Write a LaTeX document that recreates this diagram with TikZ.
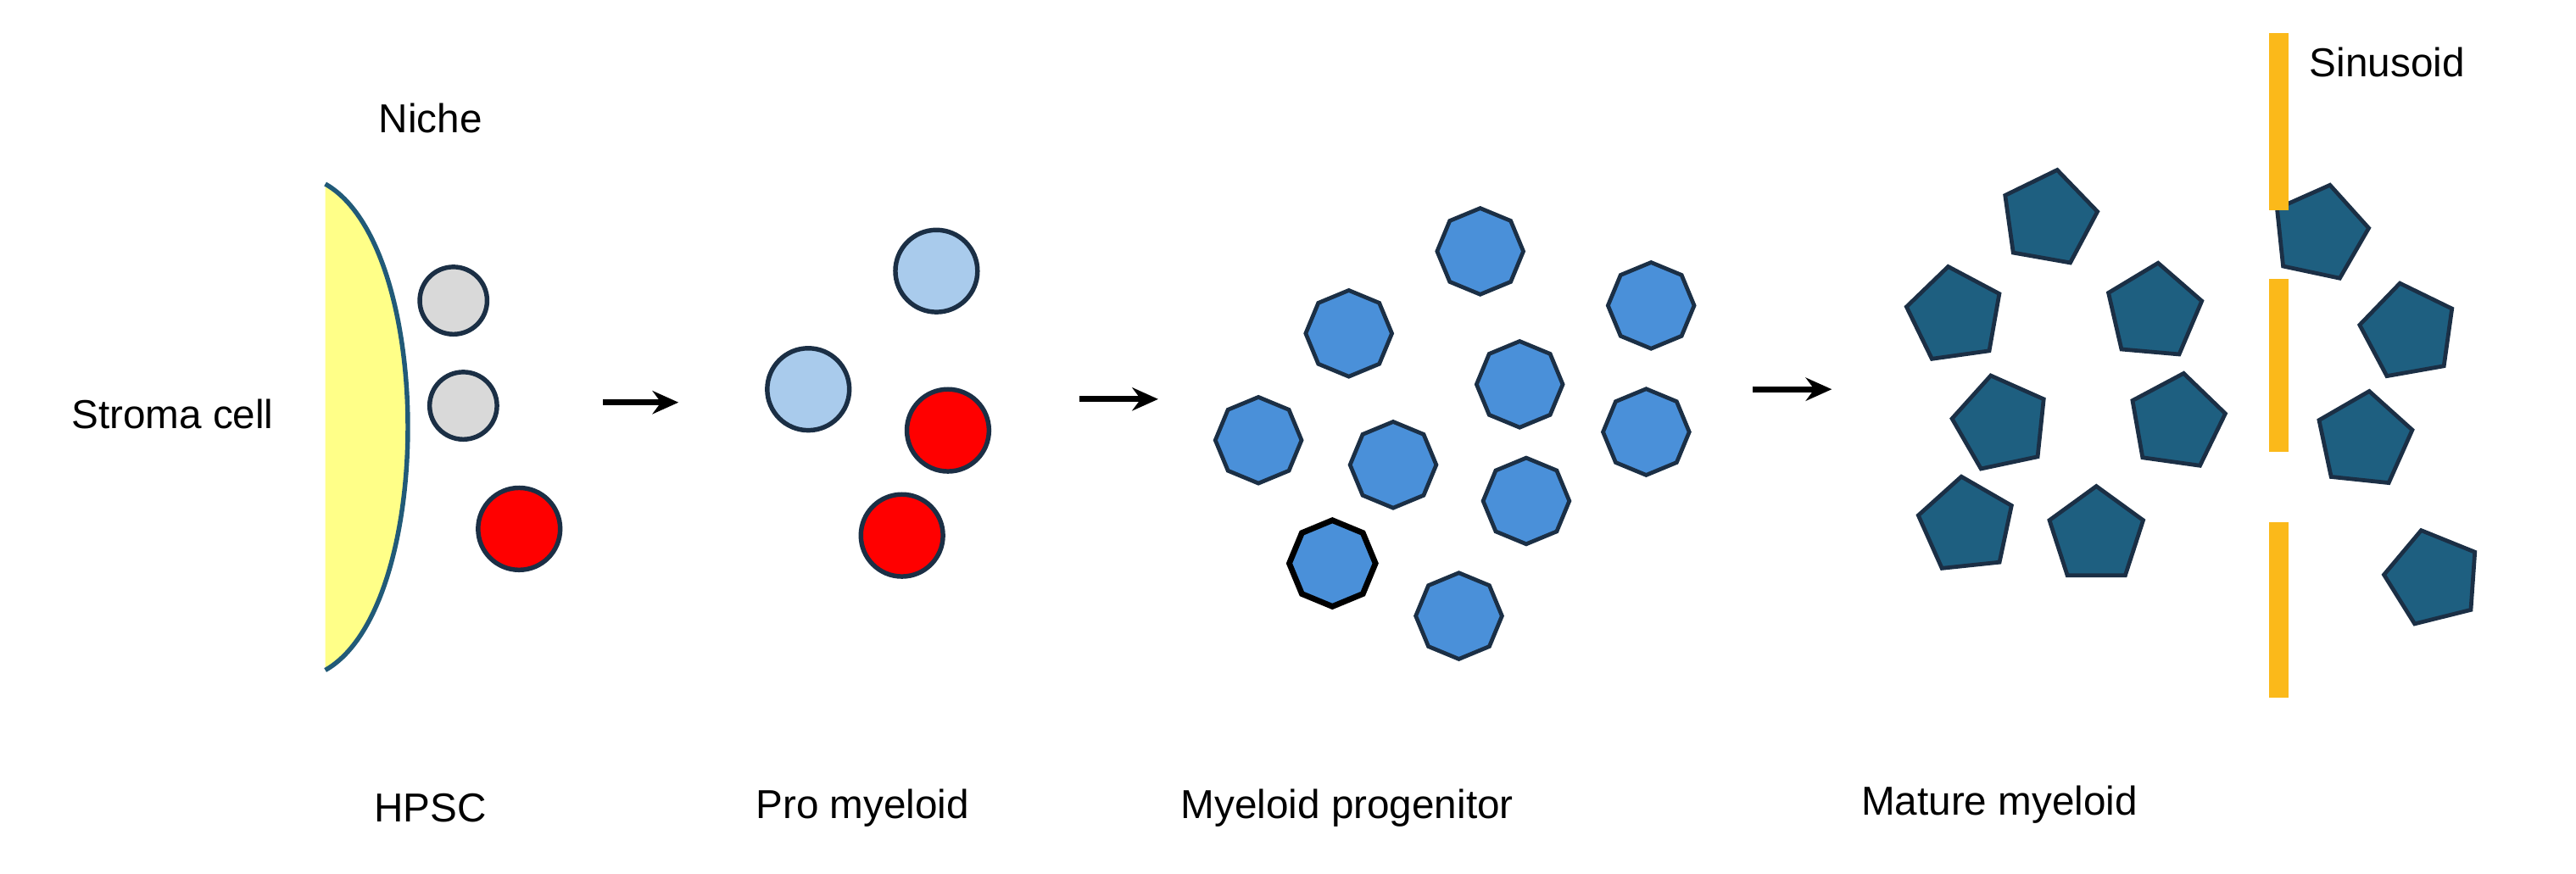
\documentclass[tikz,border=0pt]{standalone}
\usepackage{fontspec}
\setmainfont{Liberation Sans}
\usetikzlibrary{shapes.geometric,arrows.meta}
\definecolor{stroma}{HTML}{FFFF88}
\definecolor{edge}{HTML}{1B2F45}
\definecolor{sedge}{HTML}{215A78}
\definecolor{lgray}{HTML}{D9D9D9}
\definecolor{lblue}{HTML}{A9CBEC}
\definecolor{mblue}{HTML}{4A90D9}
\definecolor{teal}{HTML}{1E5F80}
\definecolor{sinus}{HTML}{FBB91A}
\begin{document}
\begin{tikzpicture}[x=0.02cm,y=-0.02cm,
  lab/.style={font=\fontsize{14}{16}\selectfont},
  cell/.style={circle,draw=edge,line width=1.6pt,minimum size=1.0cm,inner sep=0},
  small/.style={cell,minimum size=0.82cm},
  oct/.style={regular polygon,regular polygon sides=8,draw=edge,fill=mblue,line width=1.4pt,minimum size=1.05cm,inner sep=0},
  pent/.style={regular polygon,regular polygon sides=5,draw=edge,fill=teal,line width=1.4pt,minimum size=1.2cm,inner sep=0},
  arr/.style={-{Stealth[length=9pt,width=8pt]},line width=2pt},
  bar/.style={fill=sinus,draw=none}]
\useasboundingbox (0,0) rectangle (1568,532);
% stroma
\fill[stroma] (198,112) .. controls (265,150) and (265,370) .. (198,408) -- cycle;
\draw[sedge,line width=1.6pt] (198,112) .. controls (265,150) and (265,370) .. (198,408);
\node[lab] (niche) at (262,72) {Niche};
\node[lab] (stroma) at (105,252) {Stroma cell};
% HPSC
\node[small,fill=lgray] (h1) at (276,183) {};
\node[small,fill=lgray] (h2) at (282,247) {};
\node[cell,fill=red] (h3) at (316,322) {};
% pro myeloid
\node[cell,fill=lblue] (p1) at (570,165) {};
\node[cell,fill=lblue] (p2) at (492,237) {};
\node[cell,fill=red] (p3) at (577,262) {};
\node[cell,fill=red] (p4) at (549,326) {};
% arrows
\coordinate (a1s) at (367,245); \coordinate (a1e) at (413,245);
\coordinate (a2s) at (657,243); \coordinate (a2e) at (705,243);
\coordinate (a3s) at (1067,237); \coordinate (a3e) at (1115,237);
\draw[arr] (a1s) -- (a1e);
\draw[arr] (a2s) -- (a2e);
\draw[arr] (a3s) -- (a3e);
% octagons
\foreach \n/\x/\y in {o1/901/153,o2/821/203,o3/1005/186,o4/925/234,o5/1002/263,o6/766/268,o7/848/283,o8/929/305,o10/888/375}
  \node[oct,shape border rotate=22.5] (\n) at (\x,\y) {};
\node[oct,shape border rotate=22.5,draw=black,line width=2pt] (o9) at (811,343) {};
% pentagons
\foreach \n/\x/\y/\r in {q1/1247/133/-10,q2/1190/192/8,q3/1311/190/-5,q4/1218/258/12,q5/1325/257/-8,q6/1197/320/6,q7/1276/326/0,q8/1412/142/-12,q9/1466/202/10,q10/1439/268/-6,q11/1481/352/14}
  \node[pent,rotate=\r] (\n) at (\x,\y) {};
% sinusoid
\fill[bar] (1381,20) rectangle (1393,128);
\fill[bar] (1381,170) rectangle (1393,275);
\fill[bar] (1381,318) rectangle (1393,425);
\node[lab] (sin) at (1453,38) {Sinusoid};
% bottom labels
\node[lab] (l1) at (262,492) {HPSC};
\node[lab] (l2) at (525,492) {Pro myeloid};
\node[lab] (l3) at (820,492) {Myeloid progenitor};
\node[lab] (l4) at (1217,490) {Mature myeloid};
\end{tikzpicture}
\end{document}
